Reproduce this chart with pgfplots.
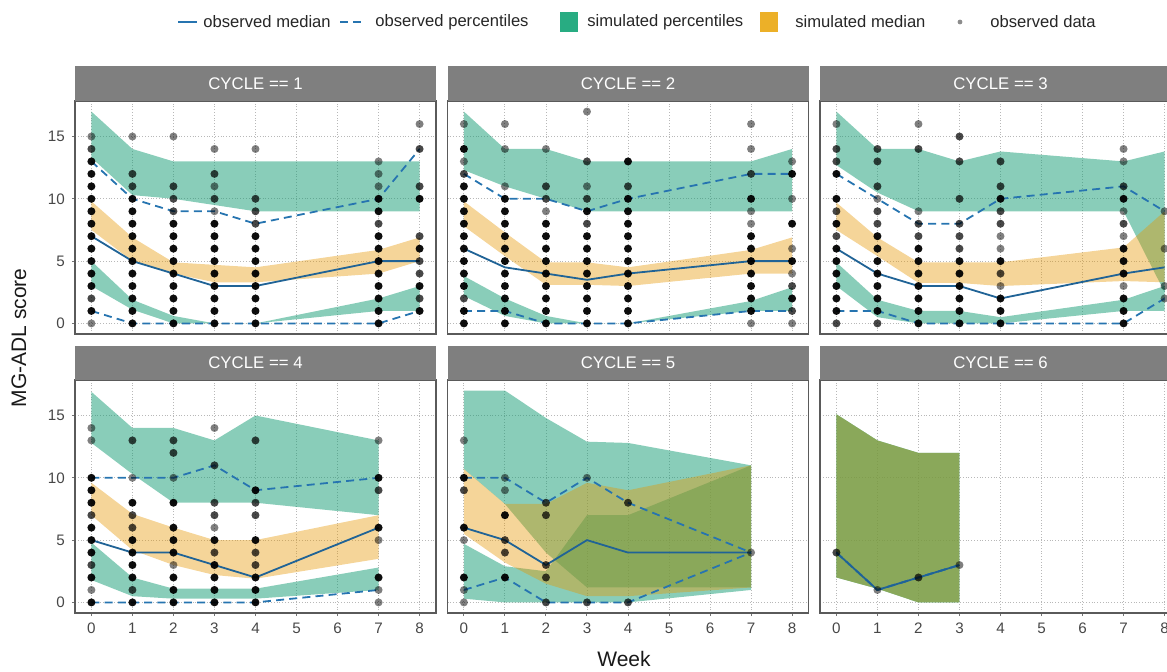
\documentclass[border=0pt]{standalone}
\usepackage{pgfplots}
\usepackage{pgfplotstable}
\usepgfplotslibrary{fillbetween}
\pgfplotsset{compat=1.18}
\usepackage{fontspec}
\setmainfont{Liberation Sans}

\definecolor{simgreen}{RGB}{20,156,116}
\definecolor{simorange}{RGB}{230,150,0}
\definecolor{keygreen}{RGB}{40,172,130}
\definecolor{keyorange}{RGB}{236,176,40}
\definecolor{obsblue}{RGB}{38,116,176}
\definecolor{stripgray}{RGB}{127,127,127}
\definecolor{framegray}{RGB}{90,90,90}

% simulated intervals per cycle: upper percentile (ut/ub), median (mt/mb), lower percentile (lt/lb)
\pgfplotstableread{
w  ut    ub    mt    mb    lt    lb
0  17    13.3  9.8   7.5   5.0   3.0
1  14    10.3  6.9   5.0   1.9   1.1
2  13    10.0  4.9   4.0   0.6   0.0
3  13    9.5   4.7   3.3   0.0   0.0
4  13    9.0   4.5   3.3   0.0   0.0
7  13    9.0   5.9   4.0   2.0   1.0
8  13    9.0   6.9   5.0   3.0   1.0
}\bandsA
\pgfplotstableread{
w  ut    ub    mt    mb    lt    lb
0  17    12.3  9.8   7.8   3.8   2.2
1  14    11.0  7.3   5.4   2.0   0.6
2  14    10.0  4.9   3.1   0.6   0.0
3  13    9.0   4.9   3.1   0.0   0.0
4  13    9.0   4.5   3.0   0.0   0.0
7  13    9.0   5.9   4.0   1.8   1.0
8  14    9.0   6.9   4.0   2.9   1.0
}\bandsB
\pgfplotstableread{
w  ut    ub    mt    mb    lt    lb
0  17    12.7  9.7   7.5   4.9   3.0
1  14    10.5  6.9   5.4   1.9   0.5
2  14    9.0   4.9   3.25  1.0   0.0
3  13    9.0   4.9   3.25  1.0   0.0
4  13.8  9.0   4.9   3.0   0.5   0.0
7  13    9.0   6.1   3.4   1.9   1.0
8  13.8  2.5   9.0   3.3   3.0   1.0
}\bandsC
\pgfplotstableread{
w  ut    ub    mt    mb    lt    lb
0  16.9  12.8  9.6   7.0   4.8   1.8
1  14    10.3  7.1   4.2   2.0   0.5
2  14    8.0   6.0   3.0   1.1   0.3
3  13    8.0   5.0   2.2   1.1   0.3
4  15    8.0   5.0   1.9   1.1   0.3
7  13    7.0   7.0   3.5   2.8   1.0
}\bandsD
\pgfplotstableread{
w  ut    ub    mt    mb    lt    lb
0  17    10.7  10.7  5.5   4.7   0.3
1  17    7.9   7.9   3.2   2.9   0.0
2  14.8  4.0   7.9   1.5   2.5   0.0
3  12.9  1.2   9.6   0.5   7.0   0.0
4  12.8  1.2   9.0   0.5   7.0   0.0
7  11    1.2   11    1.2   11    1.0
}\bandsE
\pgfplotstableread{
w  ut    ub    mt    mb    lt    lb
0  15.1  2.0   15.1  2.0   15.1  2.0
1  13    1.1   13    1.1   13    1.1
2  12    0.0   12    0.0   12    0.0
3  12    0.0   12    0.0   12    0.0
}\bandsF

% observed median and percentiles per cycle
\pgfplotstableread{
w  med  up  lo
0  7    13  1
1  5    10  0
2  4    9   0
3  3    9   0
4  3    8   0
7  5    10  0
8  5    14  1
}\obsA
\pgfplotstableread{
w  med  up  lo
0  6    12  1
1  4.5  10  1
2  4    10  0
3  3.5  9   0
4  4    10  0
7  5    12  1
8  5    12  1
}\obsB
\pgfplotstableread{
w  med  up  lo
0  6    12  1
1  4    10  1
2  3    8   0
3  3    8   0
4  2    10  0
7  4    11  0
8  4.5  9   2
}\obsC
\pgfplotstableread{
w  med  up  lo
0  5    10  0
1  4    10  0
2  4    10  0
3  3    11  0
4  2    9   0
7  6    10  1
}\obsD
\pgfplotstableread{
w  med  up  lo
0  6    10  1
1  5    10  2
2  3    8   0
3  5    10  0
4  4    8   0
7  4    4   4
}\obsE
\pgfplotstableread{
w  med  up  lo
0  4    4   4
1  1    1   1
2  2    2   2
3  3    3   3
}\obsF

\pgfplotsset{
  panel/.style={
    scale only axis, width=180.5pt, height=116.5pt, anchor=north west,
    xmin=-0.4, xmax=8.4, ymin=-0.85, ymax=17.85,
    xtick={0,1,...,8}, ytick={0,5,10,15},
    xtick pos=bottom, ytick pos=left,
    tick align=outside, major tick length=1.6pt,
    tick style={draw=black!55, line width=0.5pt},
    xmajorgrids=true, ymajorgrids=true,
    grid style={densely dotted, draw=black!28, line width=0.45pt},
    axis line style={draw=framegray, line width=0.7pt},
    ticklabel style={font=\fontsize{7.6}{9}\selectfont, text=black!72},
    /pgf/number format/assume math mode=true,
  },
  toprow/.style={xticklabels={}, xmajorticks=false},
  inner/.style={yticklabels={}, ymajorticks=false},
  pct/.style={obsblue, line width=0.9pt, dash pattern=on 4pt off 2.6pt},
  medline/.style={obsblue!85!black, line width=0.9pt},
  ptg/.style={only marks, mark=*, mark size=2pt, mark options={draw opacity=0, fill=black, fill opacity=0.5}},
  ptd/.style={only marks, mark=*, mark size=2pt, mark options={draw opacity=0, fill=black, fill opacity=0.72}},
  ptk/.style={only marks, mark=*, mark size=2pt, mark options={draw opacity=0, fill=black, fill opacity=0.95}},
}

\newcommand\drawbands[1]{%
  \addplot[name path=ut, draw=none] table[x=w,y=ut]{#1};
  \addplot[name path=ub, draw=none] table[x=w,y=ub]{#1};
  \addplot[name path=mt, draw=none] table[x=w,y=mt]{#1};
  \addplot[name path=mb, draw=none] table[x=w,y=mb]{#1};
  \addplot[name path=lt, draw=none] table[x=w,y=lt]{#1};
  \addplot[name path=lb, draw=none] table[x=w,y=lb]{#1};
  \addplot[fill=simgreen, fill opacity=0.5, draw=none] fill between[of=ut and ub];
  \addplot[fill=simgreen, fill opacity=0.5, draw=none] fill between[of=lt and lb];
  \addplot[fill=simorange, fill opacity=0.4, draw=none] fill between[of=mt and mb];
}
\newcommand\drawobs[1]{%
  \addplot[pct] table[x=w,y=up]{#1};
  \addplot[pct] table[x=w,y=lo]{#1};
  \addplot[medline] table[x=w,y=med]{#1};
}
% #1,#2 top-left corner (in 0.5pt units), #3 axis options, #4 bands,
% #5 observed lines, #6 strip title, #7 observed points
\newcommand\panel[7]{%
  \begin{axis}[panel, at={(#1*0.5pt,#2*0.5pt)}, #3]
    \drawbands{#4}
    \drawobs{#5}
    #7
  \end{axis}
  \fill[stripgray] (#1,#2) rectangle ++(361,34.5);
  \path (#1,#2) ++(180.5,17.25) node[text=white, inner sep=0pt, font=\fontsize{8.4}{10}\selectfont] {#6};
}

\begin{document}
\begin{tikzpicture}[x=0.5pt,y=0.5pt]

\panel{75}{570}{toprow}{\bandsA}{\obsA}{CYCLE == 1}{%
  \addplot[ptg] coordinates {(0,15)(0,0)(1,15)(2,15)(3,14)(3,11)(3,9)(4,14)(7,13)(7,12)(7,11)(8,16)};
  \addplot[ptd] coordinates {(0,14)(0,2)(1,12)(1,11)(2,11)(2,10)(2,9)(3,12)(3,10)(4,10)(4,9)(4,8)(7,8)(8,14)(8,11)(8,7)(8,5)(8,4)(8,2)};
  \addplot[ptk] coordinates {(0,13)(0,12)(0,11)(0,10)(0,9)(0,8)(0,7)(0,6)(0,5)(0,4)(0,3)(0,1)
    (1,10)(1,9)(1,8)(1,7)(1,6)(1,5)(1,4)(1,3)(1,2)(1,1)(1,0)
    (2,8)(2,7)(2,6)(2,5)(2,4)(2,3)(2,2)(2,1)(2,0)
    (3,8)(3,7)(3,6)(3,5)(3,4)(3,3)(3,2)(3,1)(3,0)
    (4,7)(4,6)(4,5)(4,4)(4,3)(4,2)(4,1)(4,0)
    (7,10)(7,9)(7,7)(7,6)(7,5)(7,4)(7,3)(7,2)(7,1)(7,0)
    (8,10)(8,6)(8,3)(8,1)};
}

\panel{447.5}{570}{toprow,inner}{\bandsB}{\obsB}{CYCLE == 2}{%
  \addplot[ptg] coordinates {(0,16)(0,13)(1,16)(1,14)(1,11)(2,14)(2,9)(3,17)(3,11)(7,16)(7,14)(7,9)(7,8)(7,0)(8,13)(8,10)(8,6)(8,4)(8,0)};
  \addplot[ptd] coordinates {(0,12)(0,2)(2,11)(2,10)(3,13)(3,10)(3,8)(4,11)(7,12)(8,3)(8,1)};
  \addplot[ptk] coordinates {(0,14)(0,11)(0,10)(0,9)(0,8)(0,7)(0,6)(0,5)(0,4)(0,3)(0,1)(0,0)
    (1,10)(1,9)(1,8)(1,7)(1,6)(1,5)(1,4)(1,3)(1,2)(1,1)(1,0)
    (2,8)(2,7)(2,6)(2,5)(2,4)(2,3)(2,2)(2,1)(2,0)
    (3,9)(3,7)(3,6)(3,5)(3,4)(3,3)(3,2)(3,1)(3,0)
    (4,13)(4,10)(4,9)(4,8)(4,7)(4,6)(4,5)(4,4)(4,3)(4,2)(4,1)(4,0)
    (7,10)(7,7)(7,6)(7,5)(7,4)(7,3)(7,2)(7,1)
    (8,12)(8,8)(8,5)(8,2)};
}

\panel{820}{570}{toprow,inner}{\bandsC}{\obsC}{CYCLE == 3}{%
  \addplot[ptg] coordinates {(0,16)(1,10)(2,16)(2,9)(4,7)(4,6)(4,3)(7,14)(7,13)(7,9)(7,7)(7,3)(8,9)(8,6)(8,3)(8,2)};
  \addplot[ptd] coordinates {(0,14)(0,13)(0,9)(0,7)(0,0)(1,14)(1,13)(1,11)(1,9)(1,8)(1,0)(2,14)(2,8)(2,7)(3,15)(3,13)(3,10)(3,8)(3,7)(3,6)(4,13)(4,11)(4,9)(4,8)(4,4)(7,11)(7,8)};
  \addplot[ptk] coordinates {(0,12)(0,10)(0,8)(0,6)(0,5)(0,4)(0,3)(0,2)(0,1)
    (1,7)(1,6)(1,5)(1,4)(1,3)(1,2)(1,1)
    (2,6)(2,5)(2,4)(2,3)(2,2)(2,1)(2,0)
    (3,5)(3,4)(3,3)(3,2)(3,1)(3,0)
    (4,10)(4,5)(4,2)(4,1)(4,0)
    (7,10)(7,6)(7,5)(7,4)(7,2)(7,1)(7,0)};
}

\panel{75}{291}{}{\bandsD}{\obsD}{CYCLE == 4}{%
  \addplot[ptg] coordinates {(0,14)(0,13)(0,1)(1,10)(2,10)(2,3)(3,14)(3,6)(7,13)(7,5)(7,1)(7,0)};
  \addplot[ptd] coordinates {(0,7)(0,3)(1,13)(1,7)(1,6)(1,1)(2,13)(2,12)(3,11)(3,8)(3,7)(3,4)(4,13)(4,8)(4,7)(4,4)(4,3)(7,9)};
  \addplot[ptk] coordinates {(0,10)(0,9)(0,8)(0,6)(0,5)(0,4)(0,2)(0,0)
    (1,8)(1,5)(1,4)(1,3)(1,2)(1,0)
    (2,8)(2,6)(2,5)(2,4)(2,2)(2,1)(2,0)
    (3,5)(3,3)(3,2)(3,1)(3,0)
    (4,9)(4,5)(4,2)(4,1)(4,0)
    (7,10)(7,6)(7,2)};
}

\panel{447.5}{291}{inner}{\bandsE}{\obsE}{CYCLE == 5}{%
  \addplot[ptg] coordinates {(0,13)(0,5)(0,1)(0,0)(1,10)(1,9)(3,10)(7,4)};
  \addplot[ptd] coordinates {(0,9)(1,5)(1,4)(2,8)(2,7)(2,3)(2,2)(2,0)(3,0)(4,8)(4,0)};
  \addplot[ptk] coordinates {(0,10)(0,6)(0,2)(1,7)(1,2)};
}

\panel{820}{291}{inner}{\bandsF}{\obsF}{CYCLE == 6}{%
  \addplot[ptg] coordinates {(1,1)(3,3)};
  \addplot[ptd] coordinates {(0,4)(2,2)};
}

% legend and axis titles on a page-sized canvas axis
\begin{axis}[hide axis, scale only axis, width=583.5pt, height=335.5pt,
    at={(0pt,0pt)}, anchor=south west, xmin=0, xmax=1167, ymin=0, ymax=671, clip=false]
  \addplot[pct, solid] coordinates {(178,649)(197,649)};
  \addplot[pct] coordinates {(340,649)(363,649)};
  \addplot[fill=keygreen, draw=none] coordinates {(560,639)(578,639)(578,659)(560,659)} -- cycle;
  \addplot[fill=keyorange, draw=none] coordinates {(760,639)(778,639)(778,659)(760,659)} -- cycle;
  \addplot[only marks, mark=*, mark size=1.2pt, mark options={draw opacity=0, fill=black, fill opacity=0.45}] coordinates {(960,649)};
  \begin{scope}[every node/.style={anchor=west, inner sep=0pt, font=\fontsize{8.3}{10}\selectfont, text=black!85}]
    \node at (axis cs:203,649) {observed median};
    \node at (axis cs:375,649) {observed percentiles};
    \node at (axis cs:587,649) {simulated percentiles};
    \node at (axis cs:795,649) {simulated median};
    \node at (axis cs:990,649) {observed data};
  \end{scope}
  \node[font=\fontsize{10.5}{12}\selectfont, text=black!90] at (axis cs:624,12) {Week};
  \node[rotate=90, font=\fontsize{10.5}{12}\selectfont, text=black!90] at (axis cs:19,333) {MG-ADL score};
\end{axis}

\pgfresetboundingbox
\useasboundingbox (0,0) rectangle (1167,671);
\end{tikzpicture}
\end{document}
